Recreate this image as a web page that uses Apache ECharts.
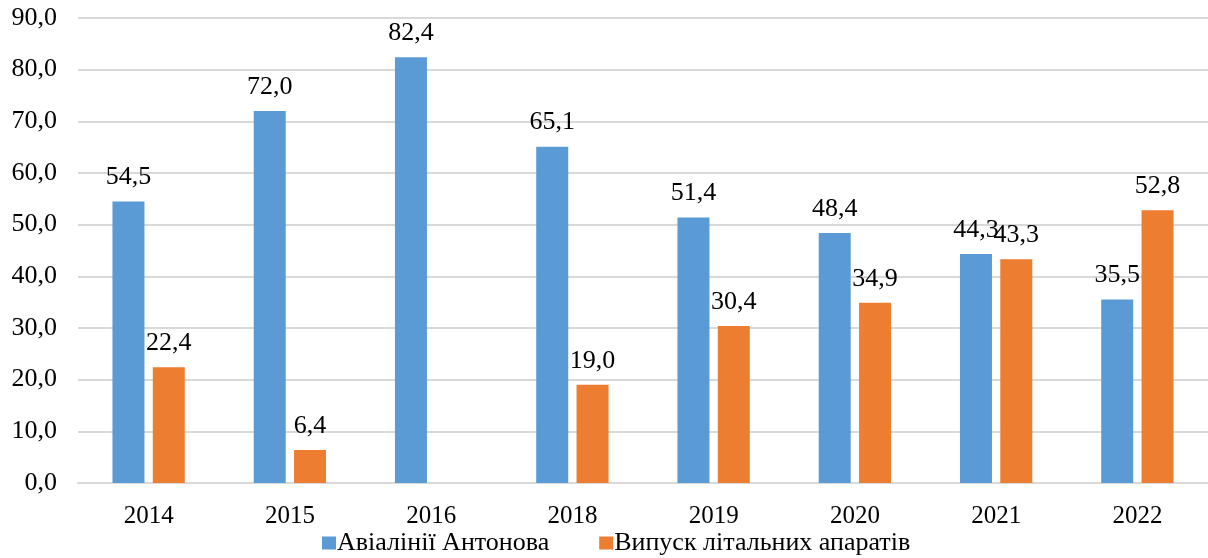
<!DOCTYPE html>
<html>
<head>
<meta charset="utf-8">
<script src="https://cdn.jsdelivr.net/npm/echarts@6/dist/echarts.min.js"></script>
<style>
  html, body { margin: 0; padding: 0; background: #fff; }
  #chart { width: 1208px; height: 558px; }
</style>
</head>
<body>
<div id="chart"></div>
<script>
// Роки спостереження
const years = ['2014', '2015', '2016', '2018', '2019', '2020', '2021', '2022'];
// Авіалінії Антонова
const antonovAirlines = [54.5, 72.0, 82.4, 65.1, 51.4, 48.4, 44.3, 35.5];
// Випуск літальних апаратів (2016 – немає даних)
const aircraftOutput = [22.4, 6.4, null, 19.0, 30.4, 34.9, 43.3, 52.8];
// Поділки осі значень
const yTicks = [0, 10, 20, 30, 40, 50, 60, 70, 80, 90];

const seriesNames = ['Авіалінії Антонова', 'Випуск літальних апаратів'];
const font = 'Liberation Serif, Times New Roman, serif';
const comma = v => v.toFixed(1).replace('.', ',');

const chart = echarts.init(document.getElementById('chart'), null, { renderer: 'canvas' });

const labelStyle = {
  show: true,
  position: 'top',
  distance: 11,
  fontFamily: font,
  fontSize: 26,
  color: '#000',
  formatter: p => comma(p.value)
};

chart.setOption({
  animation: false,
  textStyle: { fontFamily: font },
  grid: { left: 78, right: 0, top: 18, bottom: 75, containLabel: false },
  legend: {
    top: 525,
    left: 317,
    itemWidth: 14,
    itemHeight: 13,
    itemGap: 50,
    icon: 'rect',
    textStyle: { fontFamily: font, fontSize: 26, color: '#000', padding: [0, 0, 0, -4] },
    data: seriesNames
  },
  xAxis: {
    type: 'category',
    data: years,
    axisTick: { show: false },
    axisLine: { lineStyle: { color: '#d9d9d9', width: 2 } },
    axisLabel: { fontFamily: font, fontSize: 25, color: '#000', margin: 21 }
  },
  yAxis: {
    type: 'value',
    min: yTicks[0],
    max: yTicks[yTicks.length - 1],
    interval: yTicks[1] - yTicks[0],
    axisLine: { show: false },
    axisTick: { show: false },
    splitLine: { lineStyle: { color: '#d9d9d9', width: 2 } },
    axisLabel: { fontFamily: font, fontSize: 26, color: '#000', margin: 21, formatter: v => comma(v) }
  },
  series: [
    {
      name: seriesNames[0],
      type: 'bar',
      data: antonovAirlines,
      barWidth: 32,
      barGap: '26%',
      itemStyle: { color: '#5b9bd5' },
      label: labelStyle
    },
    {
      name: seriesNames[1],
      type: 'bar',
      data: aircraftOutput,
      barWidth: 32,
      barGap: '26%',
      itemStyle: { color: '#ed7d31' },
      label: labelStyle
    }
  ]
});
</script>
</body>
</html>
